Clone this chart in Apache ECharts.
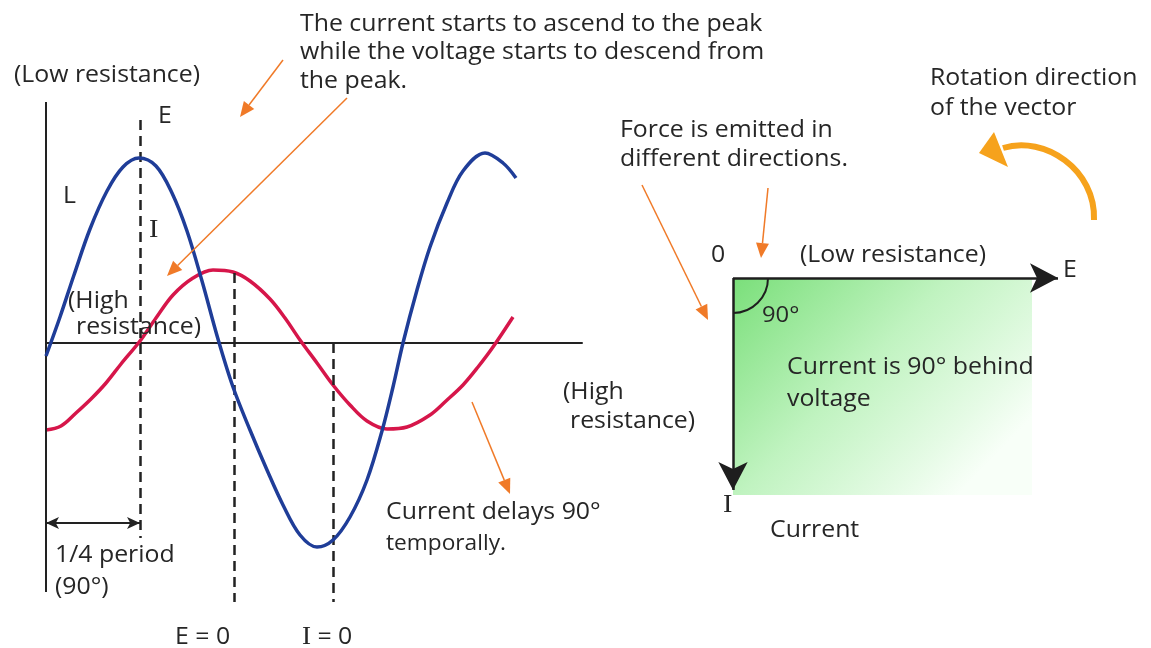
<!DOCTYPE html>
<html>
<head>
<meta charset="utf-8">
<script src="https://cdn.jsdelivr.net/npm/echarts@6/dist/echarts.min.js"></script>
<style>
  html, body { margin: 0; padding: 0; background: #fff; }
  #chart { width: 1151px; height: 648px; }
</style>
</head>
<body>
<div id="chart"></div>
<script>
// wave samples: [t, value]  (t from the origin, value above the axis)
var voltageE = [
  [0, -13], [14, 26], [28, 68], [44, 114], [61, 152], [77, 176], [93, 185],
  [110, 177], [126, 150], [141, 112], [156, 62], [172, 4], [187, -44],
  [204, -87], [221, -127], [237, -162], [254, -192], [271, -204], [287, -197],
  [304, -174], [321, -137], [336, -88], [347, -44], [357, 0], [371, 53], [384, 96],
  [401, 140], [417, 172], [439, 190], [457, 180], [470, 165]
];
var currentI = [
  [0, -87], [15, -83], [30, -70], [45, -56], [60, -40], [75, -21], [94, 2],
  [110, 25], [127, 48], [147, 65], [167, 73], [187, 71], [204, 62], [224, 44],
  [239, 25], [254, 3], [271, -20], [287, -42], [304, -62], [321, -78], [341, -86],
  [361, -84], [384, -72], [400, -58], [417, -42], [432, -24], [447, -4], [467, 26]
];
// marker times on the wave axis
var quarterT = 94;   // E peak, 1/4 period
var eZeroT = 188;
var iZeroT = 287;

// vector diagram
var eVector = [325, 0];
var iVector = [0, -212];
var phaseBox = [299, -217];

var ink = '#262626';
var orange = '#f07a28';
var SX = 1.08;

function txt(x, y, s, size, family) {
  return {
    type: 'text', x: x, y: y, scaleX: SX, z: 100,
    style: {
      text: s, fill: ink,
      font: (size || 23) + 'px ' + (family || '"Open Sans", "Noto Sans", sans-serif'),
      verticalAlign: 'middle', textVerticalAlign: 'middle'
    }
  };
}

function pointer(x1, y1, x2, y2) {
  var a = Math.atan2(y2 - y1, x2 - x1), L = 15, W = 6.5;
  var bx = x2 - L * Math.cos(a), by = y2 - L * Math.sin(a);
  return [
    { type: 'line', z: 90, shape: { x1: x1, y1: y1, x2: bx, y2: by }, style: { stroke: orange, lineWidth: 1.5 } },
    { type: 'polygon', z: 90, shape: { points: [[x2, y2], [bx - W * Math.sin(a), by + W * Math.cos(a)], [bx + W * Math.sin(a), by - W * Math.cos(a)]] }, style: { fill: orange } }
  ];
}

var chart = echarts.init(document.getElementById('chart'));

var dash = { type: [10, 6], color: '#222', width: 2.5 };

var option = {
  animation: false,
  backgroundColor: '#fff',
  grid: [
    { left: 46, top: 102, width: 536, height: 501 },
    { left: 733, top: 278, width: 340, height: 220 }
  ],
  xAxis: [
    {
      type: 'value', gridIndex: 0, min: 0, max: 536,
      axisLine: { show: true, onZero: true, lineStyle: { color: '#222', width: 2 } },
      axisTick: { show: false }, axisLabel: { show: false }, splitLine: { show: false }
    },
    {
      type: 'value', gridIndex: 1, min: 0, max: 340, show: false
    }
  ],
  yAxis: [
    {
      type: 'value', gridIndex: 0, min: -260, max: 241,
      axisLine: { show: false }, axisTick: { show: false }, axisLabel: { show: false }, splitLine: { show: false }
    },
    {
      type: 'value', gridIndex: 1, min: -220, max: 0, show: false
    }
  ],
  series: [
    {
      name: 'E', type: 'line', xAxisIndex: 0, yAxisIndex: 0,
      data: voltageE, smooth: 0.35, showSymbol: false, silent: true, z: 5,
      lineStyle: { color: '#1f3d98', width: 3.5 },
      markLine: {
        silent: true, symbol: 'none', label: { show: false },
        lineStyle: dash,
        data: [
          [{ coord: [quarterT, 223] }, { coord: [quarterT, -195] }],
          [{ coord: [eZeroT, 70] }, { coord: [eZeroT, -259] }],
          [{ coord: [iZeroT, 0] }, { coord: [iZeroT, -259] }],
          [{ coord: [0, 241], lineStyle: { type: 'solid', width: 2, color: '#222' } }, { coord: [0, -249] }]
        ]
      }
    },
    {
      name: 'I', type: 'line', xAxisIndex: 0, yAxisIndex: 0,
      data: currentI, smooth: 0.35, showSymbol: false, silent: true, z: 4,
      lineStyle: { color: '#d6164a', width: 3.5 },
      markLine: {
        silent: true, symbol: ['arrow', 'arrow'], symbolSize: [9, 13], label: { show: false },
        lineStyle: { type: 'solid', color: '#222', width: 2 },
        data: [
          [{ coord: [0, -180] }, { coord: [quarterT, -180] }]
        ]
      }
    },
    {
      name: 'box', type: 'line', xAxisIndex: 1, yAxisIndex: 1,
      data: [], silent: true, z: 1,
      markArea: {
        silent: true, label: { show: false },
        itemStyle: {
          opacity: 1,
          color: new echarts.graphic.LinearGradient(0, 0, 0.75, 1, [
            { offset: 0, color: '#7adf7a' },
            { offset: 0.5, color: '#c0f3c0' },
            { offset: 0.85, color: '#e6fbe6' },
            { offset: 1, color: '#f8fff8' }
          ])
        },
        data: [[{ coord: [0, 0] }, { coord: phaseBox }]]
      }
    },
    {
      name: 'vectors', type: 'line', xAxisIndex: 1, yAxisIndex: 1,
      data: [], silent: true, z: 3,
      markLine: {
        silent: true, symbol: ['none', 'arrow'], symbolSize: [22, 28], label: { show: false },
        lineStyle: { type: 'solid', color: '#1e1e1e', width: 2.5 },
        data: [
          [{ coord: [0, 0] }, { coord: eVector }],
          [{ coord: [0, 0] }, { coord: iVector }]
        ]
      }
    }
  ]
};
chart.setOption(option);

var o = chart.convertToPixel({ gridIndex: 1 }, [0, 0]);

var g = [
  txt(14, 75, '(Low resistance)'),
  txt(158, 116, 'E'),
  txt(63, 196, 'L'),
  txt(149, 230, 'I', 26, '"Liberation Serif", "DejaVu Serif", serif'),
  txt(68, 301, '(High'),
  txt(76, 327, 'resistance)'),
  txt(55, 555, '1/4 period'),
  txt(55, 587, '(90°)'),
  txt(175, 637, 'E = 0'),
  {
    type: 'text', x: 302, y: 637, scaleX: SX, z: 100,
    style: {
      text: '{s|I} = 0', fill: ink, font: '23px "Open Sans", sans-serif',
      verticalAlign: 'middle', textVerticalAlign: 'middle',
      rich: { s: { fontFamily: '"Liberation Serif", serif', fontSize: 25, fill: ink } }
    }
  },
  txt(300, 24, 'The current starts to ascend to the peak'),
  txt(300, 52, 'while the voltage starts to descend from'),
  txt(300, 81, 'the peak.'),
  txt(386, 512, 'Current delays 90°'),
  txt(386, 544, 'temporally.', 21),
  txt(563, 392, '(High'),
  txt(570, 421, 'resistance)'),
  txt(930, 78, 'Rotation direction'),
  txt(930, 108, 'of the vector'),
  txt(620, 130, 'Force is emitted in'),
  txt(620, 159, 'different directions.'),
  txt(711, 255, '0'),
  txt(800, 255, '(Low resistance)'),
  txt(1063, 270, 'E'),
  txt(762, 316, '90°', 22),
  txt(787, 367, 'Current is 90° behind'),
  txt(787, 399, 'voltage'),
  txt(723, 505, 'I', 26, '"Liberation Serif", "DejaVu Serif", serif'),
  txt(770, 530, 'Current'),
  {
    type: 'arc', z: 50,
    shape: { cx: o[0], cy: o[1], r: 35, startAngle: 0, endAngle: Math.PI / 2 },
    style: { stroke: '#1e1e1e', lineWidth: 2, fill: null }
  },
  {
    type: 'bezierCurve', z: 50,
    shape: { x1: 1094, y1: 220, cpx1: 1096, cpy1: 170, cpx2: 1045, cpy2: 135, x2: 1003, y2: 148 },
    style: { stroke: '#f6a21c', lineWidth: 6, fill: null }
  },
  {
    type: 'polygon', z: 50,
    shape: { points: [[979, 153], [994, 132], [1008, 167]] },
    style: { fill: '#f6a21c' }
  }
]
  .concat(pointer(283, 60, 240, 117))
  .concat(pointer(347, 98, 167, 276))
  .concat(pointer(472, 402, 510, 494))
  .concat(pointer(642, 185, 708, 320))
  .concat(pointer(768, 188, 761, 258));

chart.setOption({ graphic: g });
</script>
</body>
</html>
